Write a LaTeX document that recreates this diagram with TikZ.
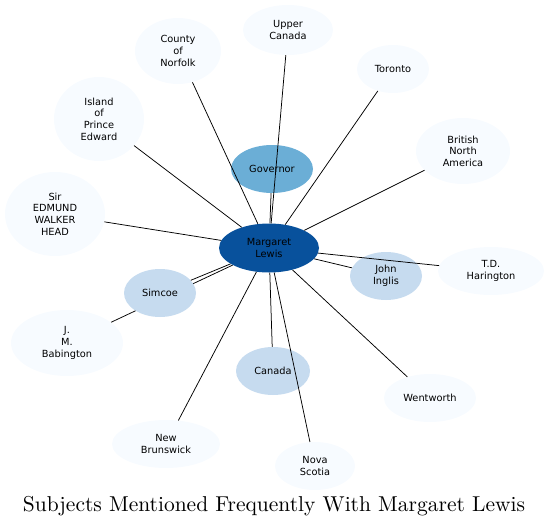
\documentclass[tikz,border=0pt]{standalone}
\usepackage{fontspec}
\setsansfont{DejaVu Sans}
\usetikzlibrary{shapes.geometric,backgrounds}
\definecolor{bluedark}{HTML}{08519C}
\definecolor{bluemid}{HTML}{6BAED6}
\definecolor{bluelight}{HTML}{C6DBEF}
\definecolor{bluepale}{HTML}{F7FBFF}

\begin{document}
\begin{tikzpicture}[x=1pt, y=-1pt,
    every node/.style={font=\sffamily\fontsize{9.8}{11.6}\selectfont, align=center},
    subj/.style={ellipse, fill=bluepale, inner sep=0pt},
    link/.style={black, line width=0.75pt}]
  \useasboundingbox (0,0) rectangle (551,527);
  % centre node
  \node[subj, fill=bluedark, minimum width=100, minimum height=49] (ml) at (269,248) {Margaret\\Lewis};
  % frequent subjects
  \node[subj, fill=bluemid, minimum width=82, minimum height=48] (gov) at (272,169) {Governor};
  \node[subj, fill=bluelight, minimum width=72, minimum height=48] (simcoe) at (160,293) {Simcoe};
  \node[subj, fill=bluelight, minimum width=72, minimum height=48] (inglis) at (386,276) {John\\Inglis};
  \node[subj, fill=bluelight, minimum width=74, minimum height=48] (canada) at (273,371) {Canada};
  % other subjects
  \node[subj, minimum width=90, minimum height=50] (upc) at (288,30) {Upper\\Canada};
  \node[subj, minimum width=86, minimum height=66] (norfolk) at (178,51) {County\\of\\Norfolk};
  \node[subj, minimum width=72, minimum height=48] (toronto) at (393,69) {Toronto};
  \node[subj, minimum width=90, minimum height=84] (pei) at (99,119) {Island\\of\\Prince\\Edward};
  \node[subj, minimum width=94, minimum height=66] (bna) at (463,151) {British\\North\\America};
  \node[subj, minimum width=100, minimum height=84] (head) at (55,214) {Sir\\EDMUND\\WALKER\\HEAD};
  \node[subj, minimum width=106, minimum height=48] (harington) at (491,271) {T.D.\\Harington};
  \node[subj, minimum width=112, minimum height=66] (babington) at (67,343) {J.\\M.\\Babington};
  \node[subj, minimum width=92, minimum height=48] (wentworth) at (430,398) {Wentworth};
  \node[subj, minimum width=108, minimum height=48] (nb) at (166,444) {New\\Brunswick};
  \node[subj, minimum width=80, minimum height=48] (ns) at (315,466) {Nova\\Scotia};
  % links
  \begin{scope}[on background layer]
    \draw[link] (ml) -- (babington);
  \end{scope}
  \foreach \n in {gov,simcoe,inglis,canada,upc,norfolk,toronto,pei,bna,head,harington,wentworth,nb,ns}
    \draw[link] (ml) -- (\n);
  \node[font=\rmfamily\fontsize{10}{12}\selectfont, scale=2.15] (title) at (274,506) {Subjects Mentioned Frequently With Margaret Lewis};
\end{tikzpicture}
\end{document}
